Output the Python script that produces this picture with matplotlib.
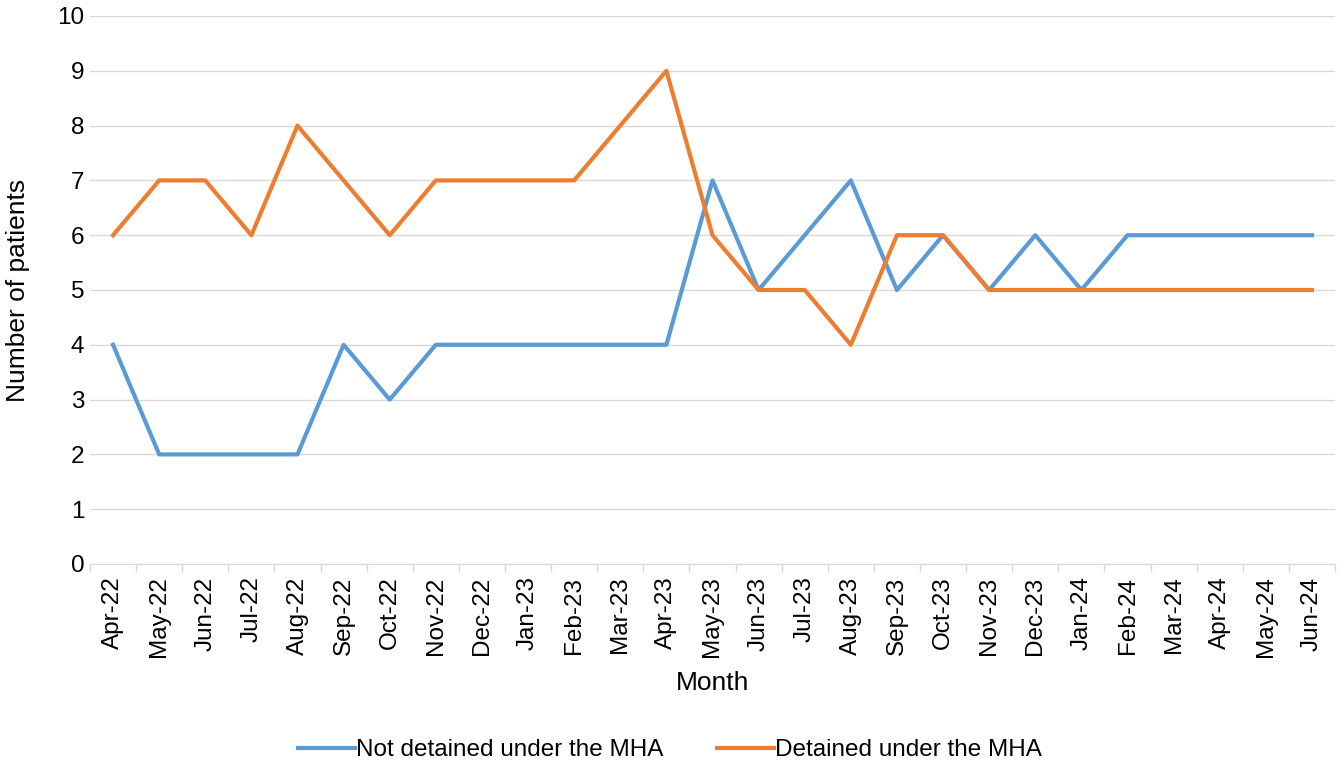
import matplotlib

matplotlib.use("Agg")
import matplotlib.pyplot as plt
import numpy as np

plt.rcParams["font.family"] = ["Liberation Sans", "DejaVu Sans"]

MONTHS = [
    "Apr-22", "May-22", "Jun-22", "Jul-22", "Aug-22", "Sep-22", "Oct-22",
    "Nov-22", "Dec-22", "Jan-23", "Feb-23", "Mar-23", "Apr-23", "May-23",
    "Jun-23", "Jul-23", "Aug-23", "Sep-23", "Oct-23", "Nov-23", "Dec-23",
    "Jan-24", "Feb-24", "Mar-24", "Apr-24", "May-24", "Jun-24",
]
NOT_DETAINED = [4, 2, 2, 2, 2, 4, 3, 4, 4, 4, 4, 4, 4, 7, 5, 6, 7, 5, 6, 5, 6, 5, 6, 6, 6, 6, 6]
DETAINED = [6, 7, 7, 6, 8, 7, 6, 7, 7, 7, 7, 8, 9, 6, 5, 5, 4, 6, 6, 5, 5, 5, 5, 5, 5, 5, 5]

BLUE = "#5B9BD5"
ORANGE = "#ED7D31"
GRID = "#D9D9D9"
FS = 17.5
TITLE_FS = 19

fig = plt.figure(figsize=(13.44, 7.67), dpi=100, facecolor="white")
ax = fig.add_axes([90 / 1344, 1 - 564 / 767, (1335 - 90) / 1344, (564 - 16) / 767])

x = np.arange(len(MONTHS))
ax.plot(x, NOT_DETAINED, color=BLUE, lw=3, solid_joinstyle="round",
        label="Not detained under the MHA")
ax.plot(x, DETAINED, color=ORANGE, lw=3, solid_joinstyle="round",
        label="Detained under the MHA")

ax.set_xlim(-0.5, len(MONTHS) - 0.5)
ax.set_ylim(0, 10)
ax.set_yticks(range(0, 11))
ax.yaxis.grid(True, color=GRID, lw=1)
ax.set_axisbelow(True)

# category labels centred on points, tick marks on the boundaries
ax.set_xticks(x)
ax.set_xticklabels(MONTHS, rotation=90, fontsize=FS)
ax.tick_params(axis="x", which="major", length=0, pad=9)
ax.set_xticks(np.arange(-0.5, len(MONTHS)), minor=True)
ax.tick_params(axis="x", which="minor", length=6, color=GRID, width=1)
ax.tick_params(axis="y", length=0, labelsize=FS, pad=4)

for side in ["top", "right", "left"]:
    ax.spines[side].set_visible(False)
ax.spines["bottom"].set_color(GRID)

ax.set_xlabel("Month", fontsize=TITLE_FS, labelpad=10)
ax.set_ylabel("Number of patients", fontsize=TITLE_FS)
ax.yaxis.set_label_coords(-0.048, 0.5)

fig.legend(loc="center", bbox_to_anchor=(670 / 1344, 1 - 750 / 767), ncol=2,
           frameon=False, fontsize=FS, handlelength=2.35, handletextpad=0.05,
           columnspacing=2.2)

fig.savefig("out.png", dpi=100, facecolor="white")
